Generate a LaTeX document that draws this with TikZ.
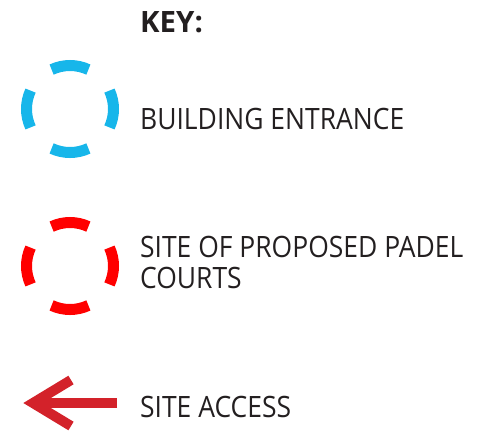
\documentclass[tikz,border=0pt]{standalone}
\usepackage{fontspec}
\setmainfont{Open Sans}[FakeStretch=0.9]
\newfontfamily\keyfont{Open Sans}
\definecolor{entblue}{HTML}{17B6EA}
\definecolor{courtred}{HTML}{FF0000}
\definecolor{accred}{HTML}{D3222A}
\definecolor{txt}{HTML}{231F20}
\begin{document}
\begin{tikzpicture}[x=1pt,y=-1pt,
  ring/.style={line width=11pt},
  keytext/.style={anchor=base west,inner sep=0pt,text=txt,font=\fontsize{29.4}{31}\selectfont},
  keyhead/.style={anchor=base west,inner sep=0pt,text=txt,font=\keyfont\fontsize{29.4}{31}\selectfont\bfseries}]
\useasboundingbox (0,0) rectangle (503,440);
% building entrance ring
\coordinate (c1) at (70,109);
\foreach \a in {0,90,180,270}{
  \draw[ring,entblue] (c1) ++(\a-25:43.5pt) arc[start angle=\a-25,end angle=\a+25,radius=43.5pt];
}
% court ring
\coordinate (c2) at (70,266);
\foreach \a in {0,90,180,270}{
  \draw[ring,courtred] (c2) ++(\a-25:43.5pt) arc[start angle=\a-25,end angle=\a+25,radius=43.5pt];
}
% access arrow
\coordinate (tail) at (117,403);
\coordinate (tip) at (33,403);
\coordinate (bu) at (71,380);
\coordinate (bl) at (71,426);
\draw[accred,line width=10pt] (tail) -- (tip);
\draw[accred,line width=10pt,line join=miter] (bu) -- (tip) -- (bl);
% texts
\node[keyhead] (key) at (140,32) {KEY:};
\node[keytext] (t1) at (140,129) {BUILDING ENTRANCE};
\node[keytext] (t2) at (140,257) {SITE OF PROPOSED PADEL};
\node[keytext] (t3) at (140,288) {COURTS};
\node[keytext] (t4) at (140,417) {SITE ACCESS};
\end{tikzpicture}
\end{document}
